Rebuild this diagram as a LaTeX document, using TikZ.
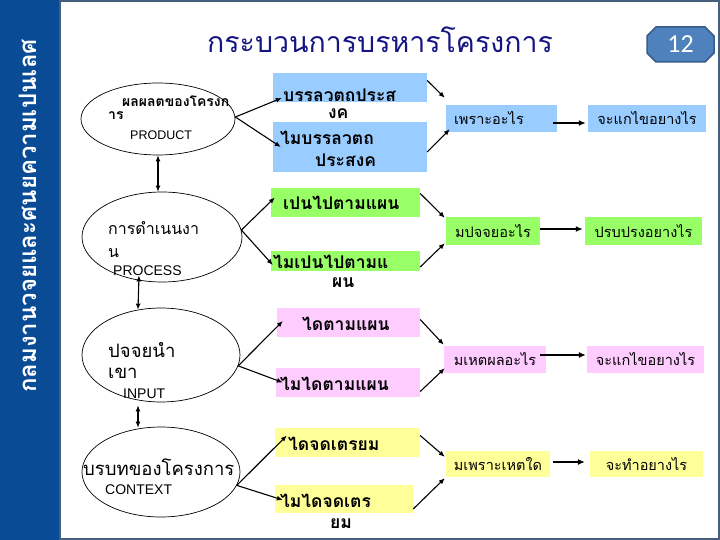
\documentclass[tikz,border=0pt]{standalone}
\usepackage{fontspec}
\setmainfont{Liberation Sans}
\newfontfamily\thai[Script=Thai]{Loma}
\newfontfamily\calib{Carlito}
\usetikzlibrary{arrows.meta,calc,shapes.geometric}
\definecolor{sidebar}{RGB}{10,75,150}
\definecolor{framec}{RGB}{70,95,125}
\definecolor{titleblue}{RGB}{20,20,130}
\definecolor{bblue}{RGB}{153,204,255}
\definecolor{bgreen}{RGB}{153,255,102}
\definecolor{bpink}{RGB}{255,204,255}
\definecolor{byellow}{RGB}{255,255,153}
\definecolor{badgefill}{RGB}{79,129,189}
\definecolor{badgeline}{RGB}{56,93,138}
\tikzset{
  ell/.style={ellipse, draw, line width=0.7pt, inner sep=0pt},
  mbox/.style={rectangle, inner sep=0pt, draw=none},
  cbox/.style={rectangle, inner sep=0pt, draw=none, font=\thai\fontsize{14.5pt}{16pt}\selectfont},
  mtxt/.style={anchor=base west, inner sep=0pt, font=\thai\bfseries\fontsize{17.5pt}{19pt}\selectfont},
  etxt/.style={anchor=base west, inner sep=0pt},
  entxt/.style={anchor=base west, inner sep=0pt, font=\fontsize{14pt}{16pt}\selectfont},
  arr/.style={line width=1.1pt, -{Latex[length=6pt,width=5pt]}},
  darr/.style={line width=1.1pt, {Latex[length=6pt,width=5pt]}-{Latex[length=6pt,width=5pt]}},
  harr/.style={line width=1.8pt, -{Latex[length=7pt,width=6pt]}},
}
\begin{document}
\begin{tikzpicture}[x=1pt,y=-1pt]
\useasboundingbox (0,0) rectangle (720,540);
% sidebar and frame
\fill[sidebar] (0,0) rectangle (59,540);
\draw[framec, line width=2.5pt] (60,1) rectangle (719,539);
\node[rotate=90, text=white, inner sep=0pt, font=\thai\bfseries\fontsize{24pt}{26pt}\selectfont] (side) at (28,216) {กลมงานวจยและศนยความเปนเลศ};
% title
\node[inner sep=0pt, text=titleblue, font=\thai\fontsize{28.5pt}{32pt}\selectfont] (title) at (380,40) {กระบวนการบรหารโครงการ};
% badge
\filldraw[fill=badgefill, draw=badgeline, line width=1.5pt]
  (656,27) -- (705,27) -- (714,36) -- (714,53) -- (705,62) -- (656,62) -- (647,53) -- (647,36) -- cycle;
\node[text=white, inner sep=0pt, font=\calib\fontsize{26pt}{28pt}\selectfont] (badge) at (680.5,44.5) {12};

% ellipses
\node[ell, minimum width=154pt, minimum height=72pt] (e1) at (158,119) {};
\node[ell, minimum width=160pt, minimum height=90pt] (e2) at (162,237) {};
\node[ell, minimum width=158pt, minimum height=94pt] (e3) at (161,355) {};
\node[ell, minimum width=158pt, minimum height=90pt] (e4) at (161,472) {};

% ellipse texts
\node[etxt, font=\thai\bfseries\fontsize{14pt}{15pt}\selectfont] (t1a) at (122,107) {ผลผลตของโครงก};
\node[etxt, font=\thai\bfseries\fontsize{14pt}{15pt}\selectfont] (t1b) at (108,120) {าร};
\node[anchor=base west, inner sep=0pt, font=\fontsize{12.5pt}{14pt}\selectfont] (t1c) at (130,140) {PRODUCT};
\node[etxt, font=\thai\fontsize{16pt}{18pt}\selectfont] (t2a) at (108,235) {การดำเนนงา};
\node[etxt, font=\thai\fontsize{16pt}{18pt}\selectfont] (t2b) at (108,257) {น};
\node[entxt] (t2c) at (113,275) {PROCESS};
\node[etxt, font=\thai\fontsize{18.5pt}{20pt}\selectfont] (t3a) at (108,357) {ปจจยนำ};
\node[etxt, font=\thai\fontsize{18.5pt}{20pt}\selectfont] (t3b) at (108,378) {เขา};
\node[entxt] (t3c) at (123,398) {INPUT};
\node[etxt, font=\thai\fontsize{18.5pt}{20pt}\selectfont] (t4a) at (83,475) {บรบทของโครงการ};
\node[entxt] (t4c) at (105,494) {CONTEXT};

% middle boxes
\node[mbox, fill=bblue, minimum width=154pt, minimum height=29pt] (m1) at (350,87.5) {};
\node[mbox, fill=bblue, minimum width=154pt, minimum height=50pt] (m2) at (350,147) {};
\node[mbox, fill=bgreen, minimum width=149pt, minimum height=29pt] (m3) at (345.5,202.5) {};
\node[mbox, fill=bgreen, minimum width=149pt, minimum height=20pt] (m4) at (345.5,261) {};
\node[mbox, fill=bpink, minimum width=143pt, minimum height=29pt] (m5) at (348.5,322.5) {};
\node[mbox, fill=bpink, minimum width=144pt, minimum height=29pt] (m6) at (348,382.5) {};
\node[mbox, fill=byellow, minimum width=145pt, minimum height=29pt] (m7) at (347.5,442.5) {};
\node[mbox, fill=byellow, minimum width=138pt, minimum height=28pt] (m8) at (344,499) {};

\node[mtxt] (s1a) at (283,102) {บรรลวตถประส};
\node[mtxt] (s1b) at (328,119) {งค};
\node[mtxt] (s2a) at (280,145) {ไมบรรลวตถ};
\node[mtxt] (s2b) at (315,167) {ประสงค};
\node[mtxt] (s3a) at (283,210) {เปนไปตามแผน};
\node[mtxt] (s4a) at (273,268) {ไมเปนไปตามแ};
\node[mtxt] (s4b) at (332,287) {ผน};
\node[mtxt] (s5a) at (302,330) {ไดตามแผน};
\node[mtxt] (s6a) at (280,390) {ไมไดตามแผน};
\node[mtxt] (s7a) at (288,450) {ไดจดเตรยม};
\node[mtxt] (s8a) at (280,507) {ไมไดจดเตร};
\node[mtxt] (s8b) at (330,528) {ยม};

% right column 1
\node[cbox, fill=bblue, minimum height=27pt, text width=95pt, inner xsep=8pt, align=left] (c1) at (501.5,118.5) {เพราะอะไร};
\node[cbox, fill=bgreen, minimum width=94pt, minimum height=28pt] (c2) at (493,231) {มปจจยอะไร};
\node[cbox, fill=bpink, minimum width=102pt, minimum height=27pt] (c3) at (495,359.5) {มเหตผลอะไร};
\node[cbox, fill=byellow, minimum width=104pt, minimum height=26pt] (c4) at (498,464) {มเพราะเหตใด};
% right column 2
\node[cbox, fill=bblue, minimum width=118pt, minimum height=27pt] (d1) at (647,118.5) {จะแกไขอยางไร};
\node[cbox, fill=bgreen, minimum width=117pt, minimum height=28pt] (d2) at (643.5,231) {ปรบปรงอยางไร};
\node[cbox, fill=bpink, minimum width=117pt, minimum height=27pt] (d3) at (645.5,359.5) {จะแกไขอยางไร};
\node[cbox, fill=byellow, minimum width=113pt, minimum height=26pt] (d4) at (646.5,464) {จะทำอยางไร};

% vertical double arrows between ellipses
\draw[darr] (e1.south) -- (e1.south |- e2.north);
\draw[darr] ([xshift=-23pt,yshift=7pt]e2.south) -- ([xshift=-23pt,yshift=-2pt]e3.north);
\draw[darr] ([xshift=-23pt,yshift=-3pt]e3.south) -- ([xshift=-23pt,yshift=-1pt]e4.north);

% ellipse -> middle boxes
\draw[arr] ($(e1.east)+(0,-2)$) -- ($(m1.west)+(9,10.5)$);
\draw[arr] ($(e1.east)+(0,-2)$) -- ($(m2.west)+(8,0)$);
\draw[arr] (e2.5) -- ($(m3.west)+(4,-5)$);
\draw[arr] (e2.5) -- ($(m4.west)+(2,4)$);
\draw[arr] (e3.-8) -- ($(m5.west)+(6,-1.5)$);
\draw[arr] (e3.-8) -- ($(m6.west)+(7,0)$);
\draw[arr] (e4.-10) -- ($(m7.west)+(12,-7)$);
\draw[arr] (e4.-10) -- ($(m8.west)+(8,1)$);

% middle -> column 1
\draw[arr] ($(m1.east)+(0,-7)$) -- ($(c1.north west)+(-1,-7)$);
\draw[arr] ($(m2.east)+(0,5)$) -- ($(c1.south west)+(4,-3)$);
\draw[arr] ($(m3.east)+(0,-9)$) -- ($(c2.north west)+(-1,1)$);
\draw[arr] ($(m4.east)+(0,6)$) -- ($(c2.south west)+(-1,-2)$);
\draw[arr] ($(m5.east)+(0,-3)$) -- ($(c3.north west)+(0,-1)$);
\draw[arr] ($(m6.east)+(0,9)$) -- ($(c3.south west)+(1,-5)$);
\draw[arr] ($(m7.east)+(0,-7)$) -- ($(c4.north west)+(-1,6)$);
\draw[arr] ($(m8.east)+(0,10)$) -- ($(c4.south west)+(-1,1)$);

% column 1 -> column 2
\draw[harr] ($(c1.east)+(-4,4.5)$) -- ($(d1.west)+(-2,4.5)$);
\draw[harr] ($(c2.east)+(0,-2)$) -- ($(d2.west)+(-2,-2)$);
\draw[harr, line width=1.2pt] ($(c3.east)+(-6,-4.5)$) -- ($(d3.west)+(-1,-4.5)$);
\draw[harr, line width=1.2pt] ($(c4.east)+(3,-2)$) -- ($(d4.west)+(-5,-2)$);
\end{tikzpicture}
\end{document}
